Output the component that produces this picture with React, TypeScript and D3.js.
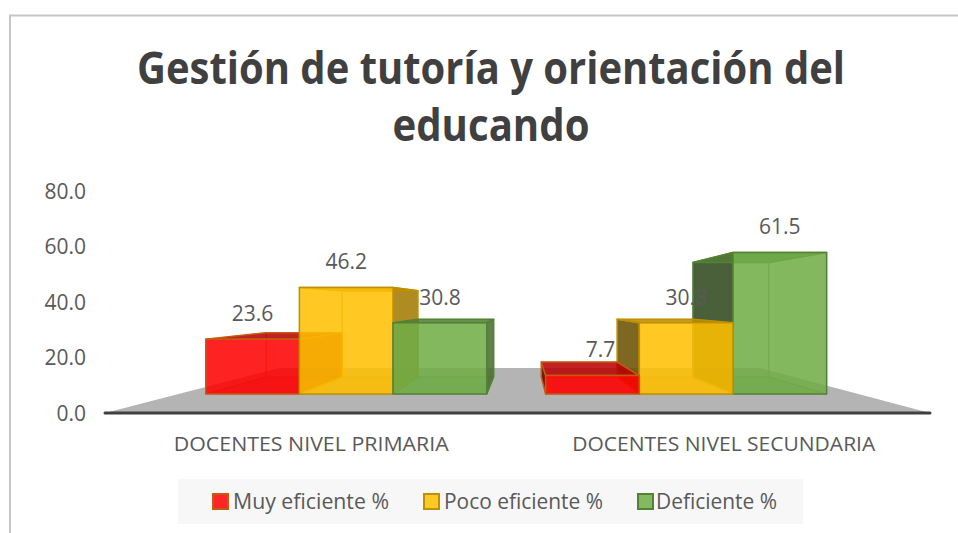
import React from "react";
import * as d3 from "d3";

const categories = ["DOCENTES NIVEL PRIMARIA", "DOCENTES NIVEL SECUNDARIA"];
const seriesNames = ["Muy eficiente %", "Poco eficiente %", "Deficiente %"];
const muyEficiente = [23.6, 7.7];
const pocoEficiente = [46.2, 30.8];
const deficiente = [30.8, 61.5];
const seriesValues = [muyEficiente, pocoEficiente, deficiente];
const yTicks = [0, 20, 40, 60, 80];
const titleLines = ["Gestión de tutoría y orientación del", "educando"];

const fills = ["#FF0000", "#FFC000", "#70AD47"];
const strokes = ["#C55A11", "#BF9000", "#548235"];
const labelDx = [[0, 0, 0], [8, 0, 0]];

const W = 958, H = 533;
const VP = { x: 523, y: 305 };
const K_FRONT = 0.824, K_BACK = 0.667, K_FLOOR = 0.583;
const FONT = "'Open Sans', 'Noto Sans', sans-serif";
const TEXT = "#595959";

const xCat = d3.scaleBand<number>().domain([0, 1]).range([105, 930]);
const xSer = d3.scaleBand<number>().domain([0, 1, 2]).range([0, 341]);
const y = d3.scaleLinear().domain([0, 80]).range([413, 191]);

const proj = (x: number, py: number, k: number): [number, number] => [
  VP.x + (x - VP.x) * k,
  VP.y + (py - VP.y) * k,
];
const poly = (pts: [number, number][]) => d3.line()(pts)! + "Z";
const shade = (c: string, f: number) => {
  const r = d3.rgb(c);
  return d3.rgb(r.r * f, r.g * f, r.b * f).formatHex();
};
const barX = (cat: number, ser: number) => xCat(cat)! + 33 + xSer(ser)!;

function Bar({ cat, ser }: { cat: number; ser: number }) {
  const v = seriesValues[ser][cat];
  const x0 = barX(cat, ser);
  const x1 = x0 + xSer.bandwidth();
  const yB = y(0), yT = y(v) - 1;
  const p = (x: number, py: number, front: boolean) => proj(x, py, front ? K_FRONT : K_BACK);
  const leftOfVp = cat === 0;
  const fill = fills[ser], stroke = strokes[ser];
  const face = (pts: [number, number][], f: number, key: string, op = 0.85, sw = 1.5, so = 1) => (
    <path key={key} d={poly(pts)} fill={shade(fill, f)} fillOpacity={op} stroke={stroke} strokeOpacity={so} strokeWidth={sw} strokeLinejoin="round" />
  );
  const nearX = leftOfVp ? x1 : x0;
  const farX = leftOfVp ? x0 : x1;
  return (
    <g>
      {face([p(x0, yT, false), p(x1, yT, false), p(x1, yB, false), p(x0, yB, false)], 1, "back", 0.12, 1, 0.5)}
      {face([p(farX, yT, true), p(farX, yT, false), p(farX, yB, false), p(farX, yB, true)], 1, "far", 0.12, 1, 0.5)}
      {face([p(x0, yB, true), p(x1, yB, true), p(x1, yB, false), p(x0, yB, false)], 0.8, "floor", 0.3, 1, 0.5)}
      {face([p(nearX, yT, true), p(nearX, yT, false), p(nearX, yB, false), p(nearX, yB, true)], leftOfVp ? 0.63 : 0.4, "near")}
      {face([p(x0, yT, true), p(x1, yT, true), p(x1, yT, false), p(x0, yT, false)], 0.72, "top")}
      {face([p(x0, yT, true), p(x1, yT, true), p(x1, yB, true), p(x0, yB, true)], 1, "front")}
    </g>
  );
}

const legendSwatchX = [212, 423, 637];
const legendTextX = [233, 444, 656];
const legendTextW = [156, 159, 121];

export default function App() {
  const floor: [number, number][] = [
    proj(105, y(0), 1),
    proj(930, y(0), 1),
    proj(930, y(0), K_FLOOR),
    proj(105, y(0), K_FLOOR),
  ];
  const order: [number, number][] = [
    [0, 0], [0, 1], [0, 2],
    [1, 2], [1, 1], [1, 0],
  ];
  return (
    <svg width={W} height={H} style={{ position: "absolute", left: 0, top: 0, background: "#fff" }} fontFamily={FONT}>
      <path d="M10 533V15.5H958" fill="none" stroke="#c6c6c6" strokeWidth={2} />
      {titleLines.map((t, i) => (
        <text key={t} x={491} y={84 + i * 57} textAnchor="middle" fontSize={45} fontWeight={700} fill="#404040"
          textLength={i === 0 ? 708 : 197} lengthAdjust="spacingAndGlyphs">{t}</text>
      ))}
      {yTicks.map((t) => (
        <text key={t} x={86} y={y(t) + 7.5} textAnchor="end" fontSize={21} fill={TEXT}>{t.toFixed(1)}</text>
      ))}
      <path d={poly(floor)} fill="#b4b4b4" />
      {order.map(([c, s]) => <Bar key={`${c}-${s}`} cat={c} ser={s} />)}
      <line x1={105} x2={930} y1={y(0)} y2={y(0)} stroke="#404040" strokeWidth={3} strokeLinecap="round" />
      {categories.map((c, i) =>
        seriesValues.map((vals, s) => {
          const xc = barX(i, s) + xSer.bandwidth() / 2;
          const [px, py] = proj(xc, y(vals[i]), K_FRONT);
          return (
            <text key={`${c}-${s}`} x={px + labelDx[i][s]} y={py - 19} textAnchor="middle" fontSize={21} fill={TEXT}>
              {vals[i].toFixed(1)}
            </text>
          );
        })
      )}
      {categories.map((c, i) => (
        <text key={c} x={xCat(i)! + xCat.bandwidth() / 2} y={451} textAnchor="middle" fontSize={20} fill={TEXT}
          textLength={i === 0 ? 275 : 303} lengthAdjust="spacingAndGlyphs">{c}</text>
      ))}
      <rect x={178} y={479} width={625} height={45} fill="#f7f7f7" />
      {seriesNames.map((n, i) => (
        <g key={n}>
          <rect x={legendSwatchX[i] + 1} y={494} width={15} height={15} fill={fills[i]} fillOpacity={0.85} stroke={strokes[i]} strokeWidth={2} />
          <text x={legendTextX[i]} y={509} fontSize={21} fill={TEXT} textLength={legendTextW[i]} lengthAdjust="spacingAndGlyphs">{n}</text>
        </g>
      ))}
    </svg>
  );
}
